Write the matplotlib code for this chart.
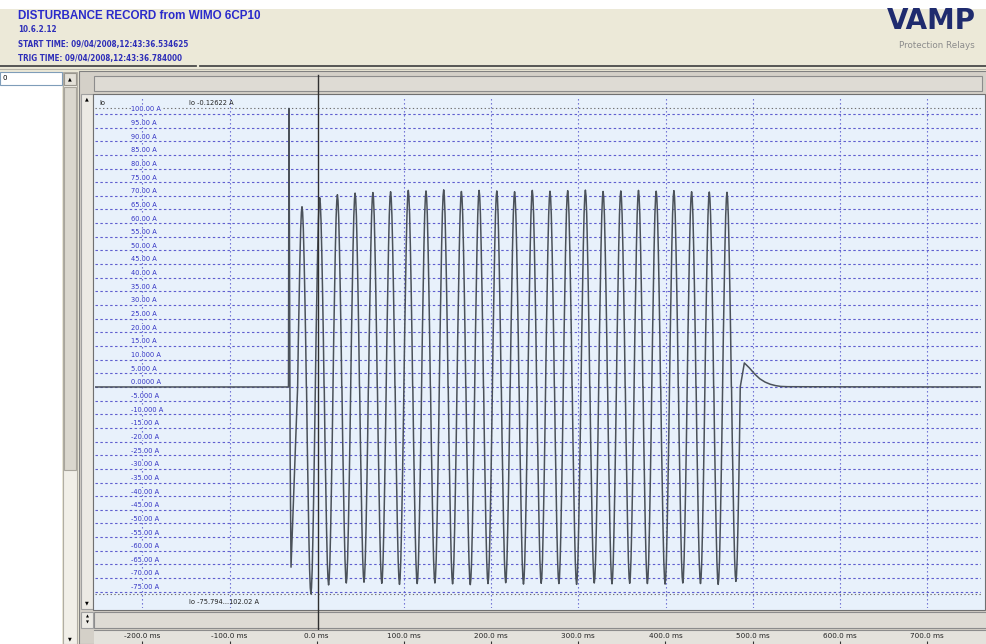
import matplotlib
matplotlib.use("Agg")
import matplotlib.pyplot as plt
import matplotlib.transforms as mtrans
from matplotlib import font_manager
from matplotlib.patches import Rectangle
from matplotlib.lines import Line2D

# ---- data read from the record ----
pre_t = [-254.0, -32.5]
pre_v = [0.0, 0.0]

spike_t = [-32.0, -31.4, -30.6, -29.6]
spike_v = [102.02, 54.0, -25.0, -66.0]

peak_t = [-17.0, 3.3, 23.6, 43.9, 64.3, 84.6, 104.9, 125.2, 145.5, 165.8,
          186.1, 206.4, 226.8, 247.1, 267.4, 287.7, 308.0, 328.3, 348.6,
          368.9, 389.2, 409.5, 429.8, 450.1, 470.4]
peak_v = [66.0, 69.3, 70.4, 71.0, 71.2, 71.5, 72.0, 71.8, 72.2, 71.6,
          72.0, 71.8, 71.5, 72.0, 71.7, 71.9, 72.1, 71.6, 71.8, 72.0,
          71.7, 71.9, 71.5, 71.4, 71.3]
trough_t = [-6.8, 13.5, 33.8, 54.1, 74.5, 94.8, 115.1, 135.4, 155.7, 176.0,
            196.3, 216.6, 237.0, 257.3, 277.6, 297.9, 318.2, 338.5, 358.8,
            379.1, 399.4, 419.7, 440.0, 460.3, 480.6]
trough_v = [-75.8, -72.5, -71.8, -71.5, -71.9, -72.3, -72.0, -71.8, -72.1,
            -72.4, -72.0, -71.7, -72.2, -71.9, -72.0, -72.3, -71.8, -72.1,
            -71.9, -72.0, -72.2, -71.8, -72.0, -72.3, -71.2]

# shape of one half-wave lobe as seen on the record (ms from crest, share of crest)
lobe_dt = [-5.0, -4.2, -3.3, -2.4, -1.5, -0.7, 0.0, 0.7, 1.5, 2.4, 3.3, 4.2, 5.0]
lobe_k = [0.0, 0.26, 0.5, 0.71, 0.88, 0.97, 1.0, 0.97, 0.88, 0.71, 0.5, 0.26, 0.0]

tail_t = [490.3, 496.0, 502.0, 508.0, 514.0, 520.0, 526.0, 532.0, 540.0, 600.0, 765.0]
tail_v = [8.8, 7.0, 4.8, 3.0, 1.8, 1.0, 0.5, 0.2, 0.1, 0.05, 0.0]

io_max = 102.02
io_min = -75.794

y_levels = [100, 95, 90, 85, 80, 75, 70, 65, 60, 55, 50, 45, 40, 35, 30, 25,
            20, 15, 10, 5, 0, -5, -10, -15, -20, -25, -30, -35, -40, -45, -50,
            -55, -60, -65, -70, -75]
y_labels = ["100.00 A", "95.00 A", "90.00 A", "85.00 A", "80.00 A", "75.00 A",
            "70.00 A", "65.00 A", "60.00 A", "55.00 A", "50.00 A", "45.00 A",
            "40.00 A", "35.00 A", "30.00 A", "25.00 A", "20.00 A", "15.00 A",
            "10.000 A", "5.000 A", "0.0000 A", "-5.000 A", "-10.000 A",
            "-15.00 A", "-20.00 A", "-25.00 A", "-30.00 A", "-35.00 A",
            "-40.00 A", "-45.00 A", "-50.00 A", "-55.00 A", "-60.00 A",
            "-65.00 A", "-70.00 A", "-75.00 A"]
t_ticks = [-200, -100, 0, 100, 200, 300, 400, 500, 600, 700]
t_labels = ["-200.0 ms", "-100.0 ms", "0.0 ms", "100.0 ms", "200.0 ms",
            "300.0 ms", "400.0 ms", "500.0 ms", "600.0 ms", "700.0 ms"]

# build the trace from the read points
trace_t = pre_t + spike_t
trace_v = pre_v + spike_v
for pt, pv, tt, tv in zip(peak_t, peak_v, trough_t, trough_v):
    for crest_t, crest_v in ((pt, pv), (tt, tv)):
        for dt, k in zip(lobe_dt, lobe_k):
            trace_t.append(crest_t + dt)
            trace_v.append(crest_v * k)
trace_t += tail_t
trace_v += tail_v

names = {f.name for f in font_manager.fontManager.ttflist}
narrow = "Liberation Sans Narrow" if "Liberation Sans Narrow" in names else "DejaVu Sans"

W, H = 987, 644
fig = plt.figure(figsize=(W / 100, H / 100), dpi=100)
fig.patch.set_facecolor("#ECE9D8")


def box(x, y, w, h):
    return [x / W, 1 - (y + h) / H, w / W, h / H]


def rect(x, y, w, h, fc, ec="none", lw=0.8):
    fig.patches.append(Rectangle((x / W, 1 - (y + h) / H), w / W, h / H,
                                 transform=fig.transFigure, facecolor=fc,
                                 edgecolor=ec, lw=lw, zorder=-5))


def ftext(x, y, s, **kw):
    fig.text(x / W, 1 - y / H, s, **kw)


def hline(x0, x1, y, color, lw=1.0):
    fig.add_artist(Line2D([x0 / W, x1 / W], [1 - y / H, 1 - y / H],
                          color=color, lw=lw, transform=fig.transFigure))


# ---- header ----
rect(0, 0, W, 9, "white")
blue = "#2A2ACB"
ftext(18, 16, "DISTURBANCE RECORD from WIMO 6CP10", color=blue,
      fontsize=8.4, fontweight="bold", family="Liberation Sans", va="center")
sub_size = 6.3 if narrow != "DejaVu Sans" else 5.8
sub_kw = dict(color="#2E2EB8", fontsize=sub_size, fontweight="bold",
              family=narrow, fontstretch="condensed", va="center")
ftext(18, 30, "10.6.2.12", **sub_kw)
ftext(18, 45, "START TIME: 09/04/2008,12:43:36.534625", **sub_kw)
ftext(18, 59, "TRIG TIME: 09/04/2008,12:43:36.784000", **sub_kw)
ftext(976, 21, "VAMP", color="#1F2B6E", fontsize=20, fontweight="heavy",
      ha="right", va="center")
ftext(975, 45, "Protection Relays", color="#8C8C8C", fontsize=6.3,
      ha="right", va="center")
hline(0, 196, 66, "#4A4A4A", 1.3)
hline(200, W, 66, "#4A4A4A", 1.3)
hline(0, W, 69, "#B8B5AA", 0.8)

# ---- left list panel ----
rect(0, 72, 62, 572, "white")
rect(0, 72, 62, 13, "white", "#7F9DB9")
ftext(3, 78, "0", fontsize=5, va="center")
rect(63, 72, 14, 572, "#F1EFE8", "#B0ADA4")
rect(64, 87, 12, 383, "#DAD7CE", "#A8A59C")
rect(64, 73, 12, 12, "#E4E1D8", "#9A978E")
ftext(70, 79, "\u25B2", fontsize=3.5, ha="center", va="center")
ftext(70, 639, "\u25BC", fontsize=3.5, ha="center", va="center")

# ---- main panel frames ----
rect(79, 71, 908, 573, "#D4D0C8", "#808080")
rect(94, 76, 888, 15, "#DEDBD4", "#8C8C8C")
rect(81, 94, 12, 515, "#ECEAE4", "#A0A0A0")
ftext(87, 99, "\u25B2", fontsize=3.5, ha="center", va="center")
ftext(87, 603, "\u25BC", fontsize=3.5, ha="center", va="center")
rect(93, 94, 892, 516, "#E8F1FB", "#707070")
rect(94, 612, 893, 16, "#DEDBD4", "#8C8C8C")
rect(81, 612, 12, 16, "#ECEAE4", "#A0A0A0")
ftext(87, 617, "\u25B2", fontsize=2.8, ha="center", va="center")
ftext(87, 623, "\u25BC", fontsize=2.8, ha="center", va="center")

# ---- trace axes ----
ax = fig.add_axes(box(95, 97, 886, 511))
ax.set_facecolor("#E8F1FB")
ax.set_xlim(-254.4, 761.7)
ax.set_ylim(-80.95, 106.2)
ax.set_xticks([])
ax.set_yticks([])
for s in ax.spines.values():
    s.set_visible(False)

grid_c = "#5F5FCF"
for v in y_levels:
    ax.axhline(v, color=grid_c, lw=0.8, ls=(0, (2.2, 2.2)), zorder=1)
for t in t_ticks:
    if t != 0:
        ax.axvline(t, color=grid_c, lw=0.8, ls=(0, (1.2, 2.4)), zorder=1)
ax.axhline(io_max, color="#707070", lw=0.8, ls=(0, (1.2, 2.2)), zorder=1)
ax.axhline(io_min, color="#707070", lw=0.8, ls=(0, (1.2, 2.2)), zorder=1)

for v, lab in zip(y_levels, y_labels):
    ax.text(-213, v + 0.6, lab, fontsize=4.8, color="#3434C4",
            ha="left", va="bottom", zorder=2,
            bbox=dict(boxstyle="square,pad=0.05", fc="#E8F1FB", ec="none"))

ax.plot(trace_t, trace_v, color="#4B525A", lw=1.1, zorder=3)

ax.text(-249, 104.0, "Io", fontsize=4.8, color="#222222", va="center", zorder=4)
ax.text(-147, 104.0, "Io -0.12622 A", fontsize=4.8, color="#222222",
        va="center", zorder=4)
ax.text(-147, -78.6, "Io -75.794...102.02 A", fontsize=4.8, color="#222222",
        va="center", zorder=4)

# cursor line at trigger, running through all panels
trans = mtrans.blended_transform_factory(ax.transData, ax.transAxes)
ax.plot([1.2, 1.2], [1.043, -0.072], transform=trans, color="#303030",
        lw=1.0, clip_on=False, zorder=6)

# ---- time axis band ----
axt = fig.add_axes(box(94, 630, 893, 14))
axt.set_facecolor("#E4E2DC")
axt.set_xlim(-255.5, 768.9)
axt.set_ylim(0, 1)
axt.set_yticks([])
axt.set_xticks(t_ticks)
axt.tick_params(axis="x", direction="in", length=2.5, width=0.8,
                labelbottom=False, color="#333333")
for s in ["left", "right", "bottom"]:
    axt.spines[s].set_visible(False)
axt.spines["top"].set_color("#8C8C8C")
for t, lab in zip(t_ticks, t_labels):
    axt.text(t, 0.55, lab, fontsize=5.2, ha="center", va="center",
             color="#222222")

fig.savefig("out.png", dpi=100, facecolor=fig.get_facecolor())
